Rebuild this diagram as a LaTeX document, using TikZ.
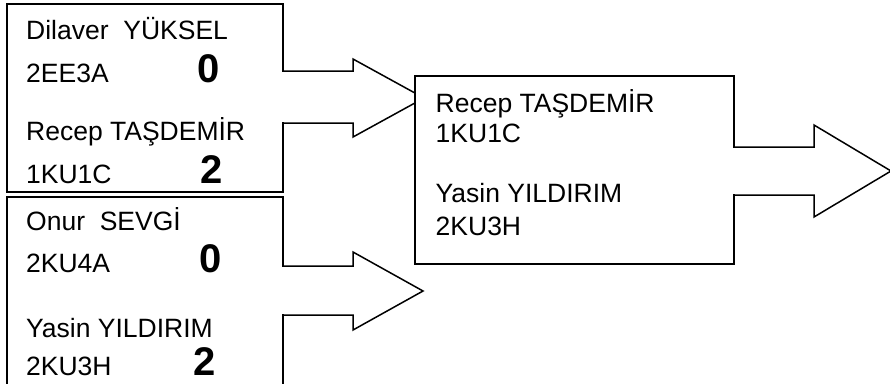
\documentclass[tikz,border=0pt]{standalone}
\usepackage{fontspec}
\setmainfont{Liberation Sans}
\begin{document}
\begin{tikzpicture}[x=1pt,y=-1pt,
  box/.style={draw,line width=1.5pt,fill=white,inner sep=0pt,outer sep=0pt,anchor=north west},
  conn/.style={draw,line width=1.5pt,line join=miter},
  txt/.style={inner sep=0pt,anchor=base west,font=\fontsize{26.5}{30}\selectfont},
  num/.style={inner sep=0pt,anchor=base west,font=\bfseries\fontsize{40}{44}\selectfont}]
\useasboundingbox (0,0) rectangle (890,383);
% left boxes
\node[box,minimum width=276pt,minimum height=188pt] (b1) at (7,4) {};
\node[box,minimum width=276pt,minimum height=210pt] (b2) at (7,197) {};
% arrows from left boxes
\fill[white] (281.5,71.8) rectangle (284.5,122.2);
\draw[conn] (b1.north east |- 0,71) -- (353,71) -- (353,59) coordinate (h1) -- (424,98) coordinate (t1)
  -- (353,137) -- (353,123) -- (b1.north east |- 0,123);
\fill[white] (281.5,266.8) rectangle (284.5,314.2);
\draw[conn] (b2.north east |- 0,266) -- (353,266) -- (353,252) -- (423,291) coordinate (t2)
  -- (353,330) -- (353,315) -- (b2.north east |- 0,315);
% right box
\node[box,minimum width=319pt,minimum height=188pt] (b3) at (415,76) {};
\fill[white] (732.5,147.8) rectangle (735.5,194.2);
\draw[conn] (b3.north east |- 0,147) -- (814,147) -- (814,125) -- (891,171) coordinate (t3)
  -- (814,217) -- (814,195) -- (b3.north east |- 0,195);
% texts box 1
\node[txt] (n1) at (26,39) {Dilaver~ YÜKSEL};
\node[txt] (c1) at (26,82) {2EE3A};
\node[num] (s1) at (197,82) {0};
\node[txt] (n2) at (26,140) {Recep TAŞDEMİR};
\node[txt] (c2) at (26,183) {1KU1C};
\node[num] (s2) at (200,183) {2};
% texts box 2
\node[txt] (n3) at (26,230) {Onur~ SEVGİ};
\node[txt] (c3) at (26,272) {2KU4A};
\node[num] (s3) at (199,272) {0};
\node[txt] (n4) at (26,337) {Yasin YILDIRIM};
\node[txt] (c4) at (26,375) {2KU3H};
\node[num] (s4) at (193,375) {2};
% texts box 3
\node[txt] (n5) at (435.5,112) {Recep TAŞDEMİR};
\node[txt] (c5) at (435.5,142) {1KU1C};
\node[txt] (n6) at (435.5,202) {Yasin YILDIRIM};
\node[txt] (c6) at (435.5,235) {2KU3H};
\end{tikzpicture}
\end{document}
